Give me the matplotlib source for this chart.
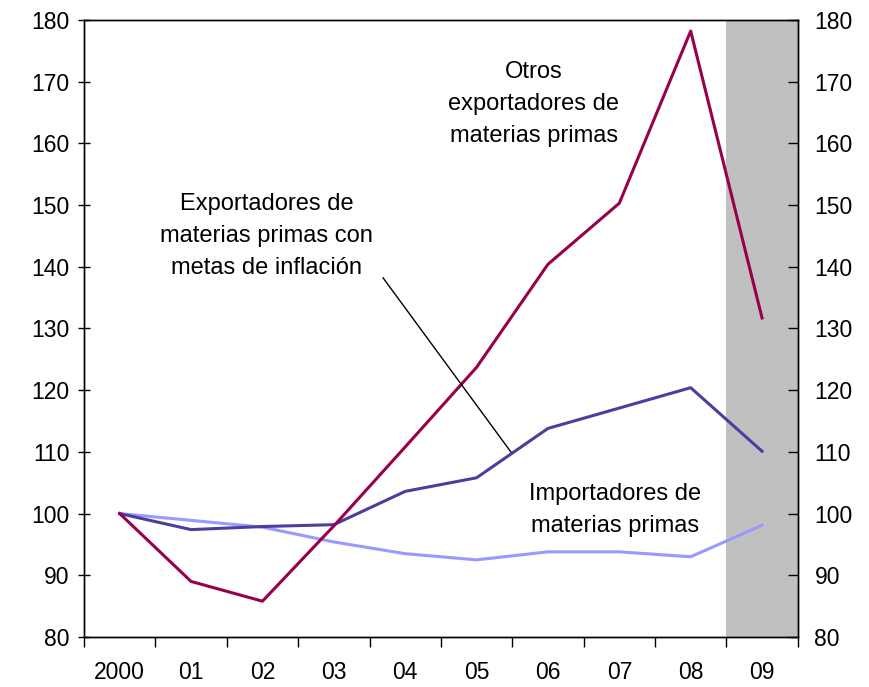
import numpy as np
import matplotlib.pyplot as plt

plt.rcParams['font.family'] = ['Liberation Sans', 'DejaVu Sans']

# data
years = ['2000', '01', '02', '03', '04', '05', '06', '07', '08', '09']
otros = [100, 89.0, 85.8, 98.0, 110.8, 123.7, 140.4, 150.3, 178.2, 131.7]
metas = [100, 97.4, 97.9, 98.2, 103.6, 105.8, 113.8, 117.1, 120.4, 110.1]
importadores = [100, 98.9, 97.8, 95.4, 93.5, 92.5, 93.8, 93.8, 93.0, 98.1]

x = np.arange(len(years))

fig = plt.figure(figsize=(8.69, 6.87), dpi=100)
ax = fig.add_axes([0.0967, 0.0728, 0.8213, 0.8982])

# shaded forecast year
ax.axvspan(8.5, 9.5, color='#C0C0C0', lw=0, zorder=0)

ax.plot(x, importadores, color='#9999FF', lw=2.2, zorder=3)
ax.plot(x, metas, color='#4B3F9E', lw=2.2, zorder=3)
ax.plot(x, otros, color='#99004C', lw=2.2, zorder=4)

ax.set_xlim(-0.5, 9.5)
ax.set_ylim(80, 180)
ax.set_yticks(range(80, 181, 10))
ax.set_xticks(np.arange(-0.5, 10, 1))
ax.set_xticklabels([])
ax.set_xticks(x, minor=True)
ax.set_xticklabels(years, minor=True)
ax.tick_params(axis='x', which='major', direction='out', length=7, width=1)
ax.tick_params(axis='x', which='minor', length=0, pad=17, labelsize=16.5)
ax.tick_params(axis='y', direction='inout', length=9, width=1, labelsize=16.5, pad=6)

ax2 = ax.twinx()
ax2.set_ylim(80, 180)
ax2.set_yticks(range(80, 181, 10))
ax2.tick_params(axis='y', direction='in', length=7, width=1, labelsize=16.5, pad=12)

for a in (ax, ax2):
    for s in a.spines.values():
        s.set_linewidth(1.0)

ax.text(5.8, 166.4, 'Otros\nexportadores de\nmaterias primas', ha='center', va='center',
        fontsize=17, linespacing=1.6)
ax.text(2.06, 145.0, 'Exportadores de\nmaterias primas con\nmetas de inflación', ha='center',
        va='center', fontsize=17, linespacing=1.6)
ax.text(6.94, 100.6, 'Importadores de\nmaterias primas', ha='center', va='center',
        fontsize=17, linespacing=1.6)
ax.plot([3.69, 5.48], [138.2, 110.0], color='black', lw=1.0, zorder=5)

fig.savefig('out.png', dpi=100)
